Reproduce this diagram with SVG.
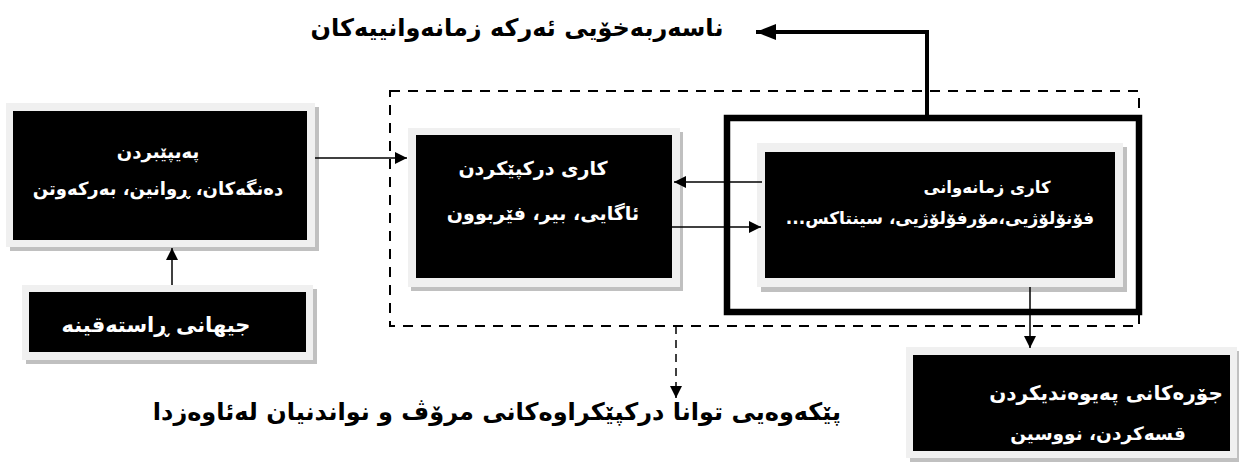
<svg xmlns="http://www.w3.org/2000/svg" width="1239" height="462" viewBox="0 0 1239 462">
<defs>
<marker id="ah" viewBox="0 0 10 10" refX="10" refY="5" markerWidth="12" markerHeight="12" markerUnits="userSpaceOnUse" orient="auto"><path d="M0,0 L10,5 L0,10 z" fill="#000"/></marker>
<marker id="ahBig" viewBox="0 0 10 10" refX="10" refY="5" markerWidth="20" markerHeight="16" markerUnits="userSpaceOnUse" orient="auto" preserveAspectRatio="none"><path d="M0,0 L10,5 L0,10 z" fill="#000"/></marker>
</defs>
<style>
.sh{fill:#c0c0c0}
.fr{fill:#f0f0f0}
.bk{fill:#000}
.t{font-family:"DejaVu Sans",sans-serif;font-weight:bold;fill:#fff;font-size:19px}
.tb{font-family:"DejaVu Sans",sans-serif;font-weight:bold;fill:#000;font-size:24px}
.thin{stroke:#000;stroke-width:1.5;fill:none}
</style>
<rect width="1239" height="462" fill="#fff"/>
<g id="frames">
<rect x="390" y="91" width="749" height="235" fill="none" stroke="#000" stroke-width="2" stroke-dasharray="10,8"/>
<rect x="727" y="118" width="412" height="194" fill="none" stroke="#000" stroke-width="6.5"/>
</g>
<g id="box1">
<rect class="sh" x="10" y="107" width="309" height="144"/>
<rect class="fr" x="6" y="103" width="309" height="144"/>
<rect class="bk" x="13" y="111" width="294" height="129"/>
<text class="t" x="158" y="158" direction="rtl" text-anchor="middle" style="font-size:18px">پەیپێبردن</text>
<text class="t" x="158" y="195" direction="rtl" text-anchor="middle" style="font-size:18px">دەنگەکان، ڕوانین، بەرکەوتن</text>
</g>
<g id="box_real">
<rect class="sh" x="26" y="289" width="291" height="75"/>
<rect class="fr" x="22" y="285" width="291" height="75"/>
<rect class="bk" x="29" y="292" width="277" height="60"/>
<text class="t" x="156" y="332" direction="rtl" text-anchor="middle" style="font-size:21px">جیهانی ڕاستەقینە</text>
</g>
<g id="box2">
<rect class="sh" x="411" y="132" width="272" height="159"/>
<rect class="fr" x="408" y="128" width="272" height="159"/>
<rect class="bk" x="416" y="135" width="256" height="143"/>
<text class="t" x="533" y="175" direction="rtl" text-anchor="middle">کاری درکپێکردن</text>
<text class="t" x="543" y="220" direction="rtl" text-anchor="middle">ئاگایی، بیر، فێربوون</text>
</g>
<g id="box3">
<rect class="sh" x="761" y="147" width="366" height="145"/>
<rect class="fr" x="757" y="143" width="366" height="144"/>
<rect class="bk" x="765" y="152" width="350" height="126"/>
<text class="t" x="987" y="193" direction="rtl" text-anchor="middle" style="font-size:16.5px">کاری زمانەوانی</text>
<text class="t" x="940" y="224" direction="rtl" text-anchor="middle" style="font-size:17px">فۆنۆلۆژیی،مۆرفۆلۆژیی، سینتاکس...</text>
</g>
<g id="box4">
<rect class="sh" x="910" y="351" width="329" height="111"/>
<rect class="fr" x="906" y="347" width="331" height="111"/>
<rect class="bk" x="913" y="355" width="317" height="96"/>
<text class="t" x="1106" y="400" direction="rtl" text-anchor="middle" style="font-size:20px">جۆرەکانی پەیوەندیکردن</text>
<text class="t" x="1098" y="440" direction="rtl" text-anchor="middle" style="font-size:18.5px">قسەکردن، نووسین</text>
</g>
<g id="title_top">
<text class="tb" x="517" y="36" direction="rtl" text-anchor="middle">ناسەربەخۆیی ئەرکە زمانەوانییەکان</text>
</g>
<g id="title_bottom">
<text class="tb" x="497" y="420" direction="rtl" text-anchor="middle">پێکەوەیی توانا درکپێکراوەکانی مرۆڤ و نواندنیان لەئاوەزدا</text>
</g>
<g id="connectors">
<line class="thin" x1="315" y1="158" x2="407" y2="158" marker-end="url(#ah)"/>
<line class="thin" x1="172" y1="285" x2="172" y2="248" marker-end="url(#ah)"/>
<line class="thin" x1="762" y1="182" x2="674" y2="182" marker-end="url(#ah)"/>
<line class="thin" x1="672" y1="227" x2="761" y2="227" marker-end="url(#ah)"/>
<line class="thin" x1="1030" y1="287" x2="1030" y2="348" marker-end="url(#ah)"/>
<line class="thin" x1="676" y1="326" x2="676" y2="398" stroke-dasharray="8,6" marker-end="url(#ah)"/>
<polyline points="927,118 927,32 756,32" fill="none" stroke="#000" stroke-width="4" marker-end="url(#ahBig)"/>
</g>
</svg>
